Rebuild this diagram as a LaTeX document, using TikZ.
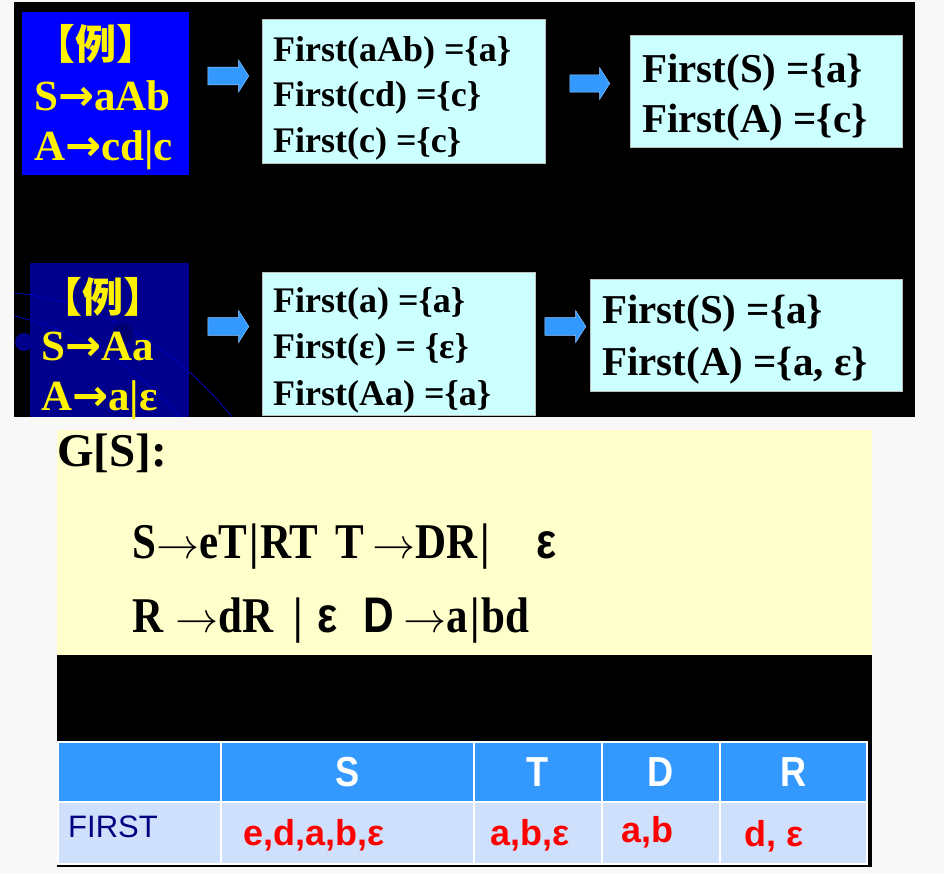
\documentclass[tikz,border=0pt]{standalone}
\usepackage{fontspec}
\setmainfont{Liberation Serif}
\setsansfont{Liberation Sans}
\newfontfamily\cjkfont{Noto Sans CJK SC}
\newfontfamily\headfont[FakeStretch=0.86]{Liberation Sans}
\newfontfamily\gramfont[FakeStretch=0.86]{Liberation Serif}
\newfontfamily\gramsans[FakeStretch=0.85]{Liberation Sans}
\newfontfamily\exarrowfont{DejaVu Sans}
\newfontfamily\gramarrowfont{latinmodern-math.otf}
\usetikzlibrary{shapes.arrows,positioning}

\definecolor{pagegray}{RGB}{248,248,248}
\definecolor{exblue}{RGB}{0,0,255}
\definecolor{exnavy}{RGB}{0,0,140}
\definecolor{setcyan}{RGB}{204,255,255}
\definecolor{arrowblue}{RGB}{51,153,255}
\definecolor{gramyellow}{RGB}{255,255,204}
\definecolor{rowblue}{RGB}{207,224,252}
\definecolor{firstnavy}{RGB}{0,0,128}

% arrows inside the texts
\newcommand{\exto}{{\exarrowfont\bfseries →}}
\newcommand{\gramto}{{\gramarrowfont\fontsize{43}{43}\selectfont →}}

\tikzset{
  panel/.style={anchor=north west, inner sep=0pt},
  setbox/.style={panel, fill=setcyan, draw=gray!50, line width=0.6pt},
  exline/.style={text=yellow, font=\bfseries\fontsize{43}{43}\selectfont, inner sep=0pt, anchor=base west},
  exhead/.style={text=yellow, font=\cjkfont\bfseries\fontsize{41}{41}\selectfont, inner sep=0pt, anchor=base},
  setline/.style={font=\bfseries\fontsize{36}{36}\selectfont, inner sep=0pt, anchor=base west},
  resline/.style={font=\bfseries\fontsize{41}{41}\selectfont, inner sep=0pt, anchor=base west},
  gramline/.style={font=\gramfont\bfseries\fontsize{50}{50}\selectfont, inner sep=0pt, anchor=base west},
  fatarrow/.style={single arrow, fill=arrowblue, draw=arrowblue!50!white, line width=0.4pt,
    minimum height=41pt, minimum width=32pt, inner xsep=0pt, inner ysep=8.5pt,
    single arrow head extend=7pt, single arrow tip angle=115},
  cell/.style={panel, draw=white, line width=2pt},
  headtext/.style={text=white, font=\headfont\bfseries\fontsize{42}{42}\selectfont},
  valtext/.style={text=red, font=\sffamily\bfseries\fontsize{36}{36}\selectfont, inner sep=0pt, anchor=base west},
}

\begin{document}
\begin{tikzpicture}[x=1pt,y=-1pt]
\useasboundingbox[fill=pagegray] (0,0) rectangle (944,873);

% first example
\fill[black] (14,2) rectangle (915,417);
\node[panel, fill=exblue, minimum width=167pt, minimum height=163pt] (ex1) at (22,12) {};
\node[exhead] (ex1h) at (96,59) {【例】};
\node[exline] (ex1a) at (34,110) {S\exto aAb};
\node[exline] (ex1b) at (34,160) {A\exto cd|c};

\node[setbox, minimum width=283pt, minimum height=144pt] (set1) at (262,19) {};
\node[setline] at (273,61) {First(aAb) =\{a\}};
\node[setline] at (273,106) {First(cd) =\{c\}};
\node[setline] at (273,152) {First(c) =\{c\}};

\node[setbox, minimum width=272pt, minimum height=112pt] (res1) at (630,35) {};
\node[resline] at (642,82) {First(S) =\{a\}};
\node[resline] at (642,132) {First(A) =\{c\}};

\node[fatarrow] (arr1) at (225.5,76) {};
\node[fatarrow, minimum height=40pt, inner ysep=8pt] (arr2) at (587,83.5) {};

% second example
\node[panel, fill=exnavy, minimum width=159pt, minimum height=154pt] (ex2) at (30,263) {};
\begin{scope}
  \clip (14,2) rectangle (915,417);
  \draw[blue!75!black, line width=0.8pt] (14,293) .. controls (90,300) and (170,340) .. (232,417);
  \draw[blue!75!black, line width=0.8pt] (14,316) .. controls (80,330) and (140,370) .. (180,417);
  \fill[blue!55!black] (24,342) circle[radius=9pt];
  \fill[blue!45!black] (123,333) circle[radius=10pt];
\end{scope}
\node[exhead] (ex2h) at (103,312) {【例】};
\node[exline] (ex2a) at (41,360) {S\exto Aa};
\node[exline] (ex2b) at (41,410) {A\exto a|ε};

\node[setbox, minimum width=273pt, minimum height=143pt] (set2) at (262,272) {};
\node[setline] at (273,312) {First(a) =\{a\}};
\node[setline] at (273,358) {First(ε) = \{ε\}};
\node[setline] at (273,405) {First(Aa) =\{a\}};

\node[setbox, minimum width=312pt, minimum height=112pt] (res2) at (590,279) {};
\node[resline] at (602,323) {First(S) =\{a\}};
\node[resline] at (602,375) {First(A) =\{a, ε\}};

\node[fatarrow] (arr3) at (225.5,326.5) {};
\node[fatarrow] (arr4) at (562.5,326.5) {};

% grammar
\fill[gramyellow] (57,430) rectangle (872,655);
\fill[black] (57,655) rectangle (872,867);
\node[inner sep=0pt, anchor=base west, font=\bfseries\fontsize{47}{47}\selectfont] (gs) at (57,466) {G[S]:};
\node[gramline] (g1) at (132,558) {S\gramto eT\hspace{3pt}|\hspace{1pt}RT\hspace{17pt}T\hspace{8pt}\gramto DR\hspace{3pt}|\hspace{47pt}{\gramsans ε}};
\node[gramline] (g2) at (132,632) {R\hspace{12pt}\gramto dR\hspace{20pt}|\hspace{15pt}{\gramsans ε}\hspace{26pt}{\gramsans D}\hspace{9pt}\gramto a\hspace{2pt}|\hspace{2pt}bd};

% table
\foreach \n/\xa/\xb/\lab in {0/57/220/{}, 1/220/473/S, 2/473/601/T, 3/601/719/D, 4/719/866/R}{
  \node[cell, fill=arrowblue, minimum width={(\xb-\xa)*1pt}, minimum height=60pt] (h\n) at (\xa,741) {};
  \node[headtext] at (h\n.center) {\lab};
  \node[cell, fill=rowblue, minimum width={(\xb-\xa)*1pt}, minimum height=62pt] (f\n) at (\xa,801) {};
}
\node[text=firstnavy, font=\sffamily\fontsize{31}{31}\selectfont, inner sep=0pt, anchor=base west] (first) at (68,837) {FIRST};
\node[valtext] (vS) at (243,845) {e,d,a,b,ε};
\node[valtext] (vT) at (490,845) {a,b,ε};
\node[valtext] (vD) at (621,842) {a,b};
\node[valtext] (vR) at (744,846) {d, ε};
\end{tikzpicture}
\end{document}
